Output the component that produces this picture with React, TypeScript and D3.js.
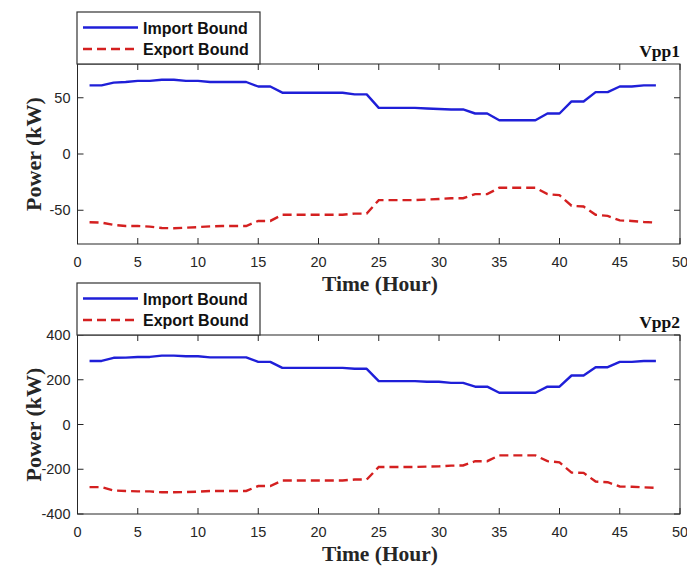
import React from "react";
import * as d3 from "d3";

const hours = [1,2,3,4,5,6,7,8,9,10,11,12,13,14,15,16,17,18,19,20,21,22,23,24,25,26,27,28,29,30,31,32,33,34,35,36,37,38,39,40,41,42,43,44,45,46,47,48];

const vpp1Import = [61,61,63.4,64,65,65,66,66,65,65,64,64,64,64,60,60,54.5,54.5,54.5,54.5,54.5,54.5,53,53,41,41,41,41,40.5,40,39.6,39.6,36,36,30,30,30,30,36,36,46.7,46.7,55,55,60,60,61,61];
const vpp1Export = [-60.7,-61,-63,-64,-64,-64.6,-65.8,-66,-65.5,-65,-64.3,-64,-64,-64,-59.5,-59.5,-54,-54,-54,-54,-54,-54,-53,-53,-41,-41,-41,-41,-40.5,-40,-39.3,-39.3,-35.7,-35.7,-30,-30,-30,-30,-35.7,-36.6,-46,-46.7,-54,-55,-59,-59.5,-60.4,-61];

const vpp2Import = [284,284,298,299,302,302,308,308,305,305,300,300,300,300,280,280,253,253,253,253,253,253,249,249,194,194,194,194,191,191,186,186,169,169,142,142,142,142,169,169,219,219,256,256,280,280,284,284];
const vpp2Export = [-280,-280,-295,-297,-299,-299,-303,-303,-302,-300,-297,-297,-297,-297,-275,-275,-250,-250,-250,-250,-250,-250,-246,-246,-190,-190,-190,-190,-188,-187,-184,-183,-164,-164,-138,-138,-138,-138,-164,-169,-215,-216,-255,-258,-277,-278,-281,-283];

const xTicks = [0,5,10,15,20,25,30,35,40,45,50];
const vpp1YTicks = [-50,0,50];
const vpp2YTicks = [-400,-200,0,200,400];

const seriesNames = ["Import Bound", "Export Bound"];
const panelTitles = ["Vpp1", "Vpp2"];

const BLUE = "#1f1fd8";
const RED = "#d42020";
const AX = "#262626";

type PanelProps = {
  top: number;
  bottom: number;
  yDomain: [number, number];
  yTicks: number[];
  imp: number[];
  exp: number[];
  title: string;
};

const left = 77.5;
const right = 680;

function Panel({ top, bottom, yDomain, yTicks, imp, exp, title }: PanelProps) {
  const x = d3.scaleLinear().domain([0, 50]).range([left, right]);
  const y = d3.scaleLinear().domain(yDomain).range([bottom, top]);
  const line = d3
    .line<number>()
    .x((_, i) => x(hours[i]))
    .y((d) => y(d));
  const tl = 6;
  const legTop = top - 52;
  const legLeft = 77;
  const legW = 183;
  return (
    <g>
      <path d={line(imp) || ""} fill="none" stroke={BLUE} strokeWidth={2.4} strokeLinejoin="round" />
      <path d={line(exp) || ""} fill="none" stroke={RED} strokeWidth={2.4} strokeDasharray="9,5" />
      <rect x={left} y={top} width={right - left} height={bottom - top} fill="none" stroke={AX} strokeWidth={1} />
      {xTicks.map((t) => (
        <g key={"x" + t}>
          <line x1={x(t)} x2={x(t)} y1={bottom} y2={bottom - tl} stroke={AX} />
          <line x1={x(t)} x2={x(t)} y1={top} y2={top + tl} stroke={AX} />
          <text x={x(t)} y={bottom + 23} textAnchor="middle" fontFamily="Liberation Sans, Arial, sans-serif" fontSize={14.5} fill={AX}>
            {t}
          </text>
        </g>
      ))}
      {yTicks.map((t) => (
        <g key={"y" + t}>
          <line x1={left} x2={left + tl} y1={y(t)} y2={y(t)} stroke={AX} />
          <line x1={right} x2={right - tl} y1={y(t)} y2={y(t)} stroke={AX} />
          <text x={left - 7} y={y(t) + 5} textAnchor="end" fontFamily="Liberation Sans, Arial, sans-serif" fontSize={14.5} fill={AX}>
            {t}
          </text>
        </g>
      ))}
      <text
        x={380}
        y={bottom + 47}
        textAnchor="middle"
        fontFamily="Liberation Serif, Times New Roman, serif"
        fontWeight="bold"
        fontSize={21.5}
        fill={AX}
      >
        Time (Hour)
      </text>
      <text
        transform={`translate(41,${(top + bottom) / 2}) rotate(-90)`}
        textAnchor="middle"
        fontFamily="Liberation Serif, Times New Roman, serif"
        fontWeight="bold"
        fontSize={22}
        fill={AX}
      >
        Power (kW)
      </text>
      <text
        x={right}
        y={top - 7}
        textAnchor="end"
        fontFamily="Liberation Serif, Times New Roman, serif"
        fontWeight="bold"
        fontSize={17.5}
        fill="#111"
      >
        {title}
      </text>
      <rect x={legLeft} y={legTop} width={legW} height={52} fill="#fff" stroke="#333" strokeWidth={1.2} />
      <line x1={83} x2={138} y1={legTop + 15.5} y2={legTop + 15.5} stroke={BLUE} strokeWidth={2.4} />
      <line x1={83} x2={138} y1={legTop + 37} y2={legTop + 37} stroke={RED} strokeWidth={2.4} strokeDasharray="9,5" />
      <text x={143} y={legTop + 21.5} fontFamily="Liberation Sans, Arial, sans-serif" fontWeight="bold" fontSize={16} fill="#111">
        {seriesNames[0]}
      </text>
      <text x={143} y={legTop + 43} fontFamily="Liberation Sans, Arial, sans-serif" fontWeight="bold" fontSize={16} fill="#111">
        {seriesNames[1]}
      </text>
    </g>
  );
}

export default function App() {
  return (
    <svg
      width={687}
      height={567}
      viewBox="0 0 687 567"
      style={{ position: "absolute", left: 0, top: 0, background: "#fff" }}
    >
      <rect width={687} height={567} fill="#fff" />
      <Panel top={64} bottom={244} yDomain={[-80, 80]} yTicks={vpp1YTicks} imp={vpp1Import} exp={vpp1Export} title={panelTitles[0]} />
      <Panel top={335} bottom={514} yDomain={[-400, 400]} yTicks={vpp2YTicks} imp={vpp2Import} exp={vpp2Export} title={panelTitles[1]} />
    </svg>
  );
}
